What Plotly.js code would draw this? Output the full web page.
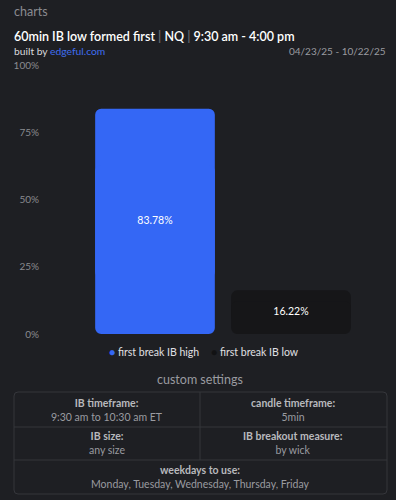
<!DOCTYPE html>
<html><head><meta charset="utf-8">
<script src="https://cdn.plot.ly/plotly-3.0.1.min.js"></script>
<style>html,body{margin:0;padding:0;background:#1e1f23;}#c{width:396px;height:500px;}</style>
</head><body><div id="c"></div>
<script>
const categories = ["first break IB high", "first break IB low"];
const values = [83.78, 16.22];
const barColors = ["#3467f5", "#161618"];
const legendDotColors = ["#3467f5", "#121214"];
const tickVals = [0, 25, 50, 75, 100];
const tickText = ["0%", "25%", "50%", "75%", "100%"];
const settingLabels = ["IB timeframe:", "candle timeframe:", "IB size:", "IB breakout measure:", "weekdays to use:"];
const settingValues = ["9:30 am to 10:30 am ET", "5min", "any size", "by wick", "Monday, Tuesday, Wednesday, Thursday, Friday"];

const W = 396, H = 500;
const L = 87, R = 359, T = 65, B = 334;
const px = x => (x - L) / (R - L);
const py = y => (B - y) / (B - T);
const FONT = "Lato, sans-serif";

const traces = [];
categories.forEach((c, i) => {
  const v = values[i];
  // upper part (rounded top) overlapping lower part (rounded bottom) -> one bar rounded at both ends
  traces.push({type: "bar", x: [c], y: [v * 0.75], base: [v * 0.25], name: c, showlegend: false,
    marker: {color: barColors[i], line: {width: 0}}, hoverinfo: "skip"});
  traces.push({type: "bar", x: [c], y: [-v * 0.75], base: [v * 0.75], name: c, showlegend: false,
    marker: {color: barColors[i], line: {width: 0}}, hoverinfo: "skip"});
});
traces.push({type: "scatter", mode: "text", x: categories, y: values.map(v => v / 2), showlegend: false,
  text: values.map(v => v.toFixed(2) + "%"), textposition: "middle center",
  textfont: {color: "#ffffff", size: 10.5, family: FONT}, hoverinfo: "skip"});

const ann = [];
const shapes = [];
function text(x, y, t, size, color, anchor, weight) {
  ann.push({xref: "paper", yref: "paper", x: px(x), y: py(y), text: t, showarrow: false,
    xanchor: anchor || "left", yanchor: "middle", borderpad: 0,
    font: {size: size, color: color, family: FONT, weight: weight || 400}});
}
text(13, 11, "charts", 12.5, "#8a8b90");
text(13, 36, "60min IB low formed first <span style='color:#6a6b70'>|</span> NQ <span style='color:#6a6b70'>|</span> 9:30 am - 4:00 pm", 12.5, "#ffffff", "left", 600);
text(13, 51, "built by <span style='color:#3f6ef0'>edgeful.com</span>", 10.3, "#d8d8dc");
text(387, 51, "04/23/25 - 10/22/25", 10, "#9a9ba0", "right");
text(200, 379, "custom settings", 12.5, "#9a9ba0", "center");

// legend
text(108, 352, "<span style='color:" + legendDotColors[0] + "'>●</span> " + categories[0], 10.5, "#e0e0e4", "left");
text(210, 352, "<span style='color:" + legendDotColors[1] + "'>●</span> " + categories[1], 10.5, "#e0e0e4", "left");

// table
const tx0 = 14, tx1 = 387, ty0 = 392, ty1 = 494, r1 = 427, r2 = 460, cx = 200;
const bc = "#35363b";
shapes.push({type: "path", xref: "paper", yref: "paper",
  path: `M ${px(tx0+4)},${py(ty0)} L ${px(tx1-4)},${py(ty0)} Q ${px(tx1)},${py(ty0)} ${px(tx1)},${py(ty0+4)} L ${px(tx1)},${py(ty1-4)} Q ${px(tx1)},${py(ty1)} ${px(tx1-4)},${py(ty1)} L ${px(tx0+4)},${py(ty1)} Q ${px(tx0)},${py(ty1)} ${px(tx0)},${py(ty1-4)} L ${px(tx0)},${py(ty0+4)} Q ${px(tx0)},${py(ty0)} ${px(tx0+4)},${py(ty0)} Z`,
  line: {color: bc, width: 1}});
[r1, r2].forEach(y => shapes.push({type: "line", xref: "paper", yref: "paper", x0: px(tx0), x1: px(tx1), y0: py(y), y1: py(y), line: {color: bc, width: 1}}));
shapes.push({type: "line", xref: "paper", yref: "paper", x0: px(cx), x1: px(cx), y0: py(ty0), y1: py(r2), line: {color: bc, width: 1}});

const cells = [[107, 410], [293, 410], [107, 443], [293, 443], [200, 477]];
cells.forEach((c, i) => {
  text(c[0], c[1], "<span style='color:#b8b9bd;font-weight:700'>" + settingLabels[i] + "</span><br>" + settingValues[i], 10.5, "#9a9ba0", "center");
});

const layout = {
  width: W, height: H, paper_bgcolor: "#1e1f23", plot_bgcolor: "#1e1f23",
  margin: {l: L, r: W - R, t: T, b: H - B, pad: 0},
  bargap: 0.12, barcornerradius: 6, barmode: "overlay",
  showlegend: false,
  xaxis: {type: "category", categoryarray: categories, showticklabels: false, showgrid: false, zeroline: false, showline: false, range: [-0.5, 1.5], fixedrange: true},
  yaxis: {range: [0, 100], tickvals: tickVals, ticktext: tickText, showgrid: false, zeroline: false, showline: false,
    tickfont: {size: 10, color: "#8a8b90", family: FONT}, ticklabelstandoff: 47, fixedrange: true},
  annotations: ann, shapes: shapes, font: {family: FONT}
};
Plotly.newPlot("c", traces, layout, {staticPlot: true, displayModeBar: false});
</script>
</body></html>
